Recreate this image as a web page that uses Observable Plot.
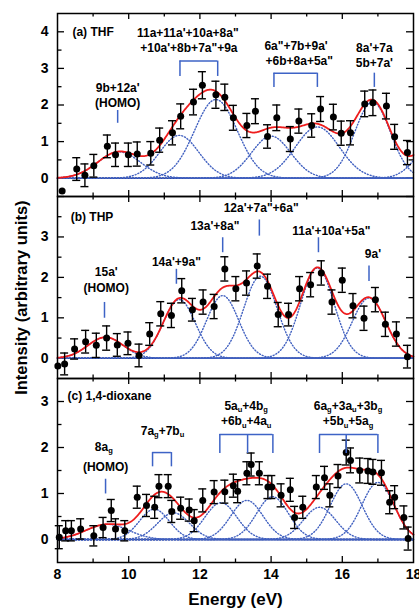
<!DOCTYPE html>
<html><head><meta charset="utf-8">
<script src="https://cdn.jsdelivr.net/npm/d3@7"></script>
<script src="https://cdn.jsdelivr.net/npm/@observablehq/plot@0.6"></script>
<style>
body{margin:0;background:#fff;}
#wrap{position:relative;width:419px;height:611px;overflow:hidden;background:#fff;}
#wrap > svg{position:absolute;left:0;}
</style></head><body><div id="wrap"></div>
<script>
// ---------- (a) THF ----------
const energyA = [8.13,8.54,8.77,9.02,9.40,9.63,9.99,10.24,10.62,10.87,11.23,11.46,11.82,12.07,12.45,12.70,12.94,13.32,13.56,13.90,14.16,14.54,14.78,15.14,15.39,15.75,15.97,16.23,16.63,16.86,17.24,17.47,17.83];
const intensityA = [-0.35,0.25,0.08,0.34,0.87,0.64,0.64,0.66,0.68,1.04,1.24,1.69,2.08,2.54,2.28,2.21,1.65,1.44,1.83,1.14,1.65,1.07,1.56,1.44,1.89,1.67,1.23,1.24,2.03,2.06,1.97,1.13,0.70];
const errorA = [0,0.31,0.31,0.31,0.31,0.32,0.32,0.33,0.32,0.33,0.33,0.34,0.35,0.37,0.37,0.36,0.34,0.33,0.34,0.32,0.35,0.34,0.33,0.32,0.34,0.35,0.33,0.33,0.35,0.35,0.35,0.34,0.33];
const peakCenterA = [9.73,11.42,12.45,14.0,15.3,16.85,18.6];
const peakHeightA = [0.72,1.17,2.15,1.15,1.4,2.08,1.0];
const peakWidthA  = [0.6,0.55,0.6,0.55,0.62,0.5,0.5];

// ---------- (b) THP ----------
const energyB = [8.01,8.2,8.48,8.79,9.09,9.38,9.68,9.98,10.29,10.59,10.9,11.2,11.49,11.79,12.09,12.4,12.7,13.01,13.31,13.61,13.9,14.2,14.49,14.8,15.11,15.41,15.71,16.0,16.3,16.61,16.93,17.21,17.52,17.83];
const intensityB = [-0.19,-0.14,0.23,0.41,0.32,0.5,0.33,0.37,0.07,0.6,1.1,1.06,1.67,1.2,1.39,1.28,2.21,1.72,1.86,2.28,1.78,1.08,1.08,1.72,1.82,2.11,1.39,1.93,1.3,0.99,1.45,0.84,0.6,0.04];
const errorB = [0,0.27,0.25,0.28,0.3,0.3,0.28,0.28,0.28,0.28,0.3,0.3,0.3,0.28,0.3,0.3,0.3,0.3,0.3,0.3,0.3,0.3,0.28,0.3,0.3,0.3,0.3,0.3,0.3,0.3,0.3,0.3,0.3,0.28];
const peakCenterB = [9.35,11.42,12.64,13.7,15.3,16.75];
const peakHeightB = [0.52,1.45,1.55,2.03,2.23,1.49];
const peakWidthB  = [0.5,0.45,0.45,0.47,0.47,0.47];

// ---------- (c) 1,4-dioxane ----------
const energyC = [8.05,8.23,8.39,8.65,9.02,9.28,9.51,9.63,9.89,10.24,10.5,10.73,10.85,11.11,11.21,11.46,11.7,11.84,12.08,12.4,12.7,12.94,13.06,13.32,13.44,13.67,13.91,14.02,14.28,14.54,14.66,14.89,15.27,15.5,15.65,15.88,16.11,16.23,16.49,16.72,16.86,17.1,17.33,17.47,17.73,17.85];
const intensityC = [0.05,0.19,0.19,0.23,0.08,0.26,0.63,0.23,0.19,0.92,0.74,0.7,1.16,1.16,0.61,0.68,0.64,0.41,0.85,1.03,1.04,1.17,1.05,1.44,1.63,1.44,1.14,1.14,0.96,1.08,0.48,0.7,1.14,1.34,0.96,1.38,1.89,1.72,1.5,1.49,1.47,1.45,0.81,0.92,0.48,0.02];
const errorC = [0.25,0.22,0.22,0.22,0.22,0.22,0.24,0.22,0.22,0.24,0.24,0.24,0.25,0.25,0.24,0.24,0.24,0.24,0.25,0.25,0.25,0.25,0.25,0.25,0.25,0.25,0.25,0.25,0.25,0.25,0.24,0.24,0.25,0.25,0.25,0.25,0.27,0.27,0.27,0.27,0.27,0.27,0.25,0.25,0.25,0.25];
const peakCenterC = [9.4,10.72,11.26,12.59,13.32,14.04,15.36,16.11,17.0];
const peakHeightC = [0.33,0.66,0.58,0.8,0.85,0.93,0.7,1.21,1.24];
const peakWidthC  = [0.6,0.42,0.45,0.45,0.45,0.45,0.45,0.45,0.45];

// ---------- tick labels ----------
const xTickLabels = [8,10,12,14,16,18];
const yTicksA = [0,1,2,3,4];
const yTicksB = [0,1,2,3];
const yTicksC = [0,1,2,3];

// ---------- panel titles and orbital assignments (text, energy, intensity) ----------
const titleA = "(a) THF", titleB = "(b) THP", titleC = "(c) 1,4-dioxane";
const titleXA = 8.42, titleYA = 3.99, titleXB = 8.37, titleYB = 3.5, titleXC = 8.28, titleYC = 3.11;

const labelTextA = ["11a+11a'+10a+8a\"","+10a'+8b+7a\"+9a","9b+12a'","(HOMO)","6a\"+7b+9a'","+6b+8a+5a\"","8a'+7a","5b+7a'"];
const labelXA = [11.66,11.69,9.69,9.69,14.7,14.79,16.9,16.9];
const labelYA = [3.96,3.54,2.45,2.05,3.62,3.2,3.55,3.13];
const bracketsA = [{from:11.44,to:12.5,top:3.2,end:2.78,mid:[]},{from:14.08,to:15.3,top:2.87,end:2.48,mid:[]}];
const markerXA = [9.69,16.9], markerTopA=[1.85,2.87], markerEndA=[1.5,2.48];

const labelTextB = ["15a'","(HOMO)","14a'+9a\"","13a'+8a\"","12a'+7a\"+6a\"","11a'+10a'+5a\"","9a'"];
const labelXB = [9.37,9.37,11.34,12.42,13.72,15.69,16.86];
const labelYB = [2.13,1.74,2.38,3.27,3.71,3.14,2.57];
const bracketsB = [];
const markerXB = [9.32,11.34,12.64,13.67,15.33,16.75], markerTopB=[1.38,2.2,2.98,3.42,2.98,2.28], markerEndB=[0.99,1.83,2.61,3.02,2.61,1.9];

const labelTextC = ["8a{g}","(HOMO)","7a{g}+7b{u}","5a{u}+4b{g}","+6b{u}+4a{u}","6a{g}+3a{u}+3b{g}","+5b{u}+5a{g}"];
const labelXC = [9.3,9.35,10.95,13.3,13.3,16.16,16.16];
const labelYC = [2.01,1.58,2.36,2.9,2.57,2.9,2.57];
const bracketsC = [{from:10.67,to:11.2,top:1.89,end:1.58,mid:[]},{from:12.56,to:14.05,top:2.28,end:1.87,mid:[13.34]},{from:15.36,to:17.0,top:2.28,end:1.87,mid:[16.11]}];
const markerXC = [9.35], markerTopC=[1.31], markerEndC=[0.99];

// ---------- drawing ----------
const RED = "#ee1c1c", BLUE = "#4060c0", BR = "#3d63c6";
const FONT = "'Liberation Sans', Arial, sans-serif";
const grid = d3.range(8, 18.0001, 0.02);
const gauss = (x, c, a, s) => a * Math.exp(-((x - c) ** 2) / (2 * s * s));

function panel(o) {
  const ppuX = 356 / 10;
  const cap = 4 / ppuX;
  const comps = o.centers.map((c, j) => ({c, a: o.heights[j], s: o.widths[j]}));
  const compRows = comps.flatMap((p, j) => grid.map(x => ({x, y: gauss(x, p.c, p.a, p.s), j})));
  const sumRows = grid.map(x => ({x, y: d3.sum(comps, p => gauss(x, p.c, p.a, p.s))}));
  const pts = o.energy.map((e, i) => ({e, v: o.intensity[i], lo: o.intensity[i] - o.error[i], hi: o.intensity[i] + o.error[i], err: o.error[i], l: e - cap, r: e + cap}));
  const bars = pts.filter(d => d.err > 0);
  const [y0, y1] = o.yDomain;
  const frameH = o.height - o.mt - o.mb;
  const ppuY = frameH / (y1 - y0);
  const yMajor = d3.range(Math.ceil(y0), y1 + 1e-9, 1);
  const yMinor = d3.range(Math.ceil(y0 * 2) / 2, y1 + 1e-9, 0.5).filter(v => !yMajor.includes(v) && v > y0 && v < y1);
  const xMajor = [10,12,14,16], xMinor = [9,11,13,15,17];
  const labels = o.labelText.map((t, i) => ({t, x: o.labelX[i], y: o.labelY[i]}));
  const hSeg = o.brackets.map(b => ({x1: b.from, x2: b.to, y: b.top}));
  const vSeg = o.brackets.flatMap(b => [b.from, ...b.mid, b.to].map(x => ({x, y1: b.end, y2: b.top})))
    .concat(o.markerX.map((x, i) => ({x, y1: o.markerEnd[i], y2: o.markerTop[i]})));
  const marks = [
    Plot.ruleY(yMajor, {x1: 8, x2: 8 + 7 / ppuX, stroke: "black", strokeWidth: 1.3}),
    Plot.ruleY(yMajor, {x1: 18 - 7 / ppuX, x2: 18, stroke: "black", strokeWidth: 1.3}),
    Plot.ruleY(yMinor, {x1: 8, x2: 8 + 4.5 / ppuX, stroke: "black", strokeWidth: 1.3}),
    Plot.ruleY(yMinor, {x1: 18 - 4.5 / ppuX, x2: 18, stroke: "black", strokeWidth: 1.3}),
    Plot.ruleX(xMajor, {y1: y0, y2: y0 + 6 / ppuY, stroke: "black", strokeWidth: 1.3}),
    Plot.ruleX(xMajor, {y1: y1 - 6 / ppuY, y2: y1, stroke: "black", strokeWidth: 1.3}),
    Plot.ruleX(xMinor, {y1: y0, y2: y0 + 3.5 / ppuY, stroke: "black", strokeWidth: 1.3}),
    Plot.ruleX(xMinor, {y1: y1 - 3.5 / ppuY, y2: y1, stroke: "black", strokeWidth: 1.3}),
    Plot.ruleY([0], {stroke: "#1d2f7a", strokeWidth: 1.6}),
    Plot.line(compRows, {x: "x", y: "y", z: "j", stroke: BLUE, strokeWidth: 1.4, strokeDasharray: "1,2"}),
    Plot.line(sumRows, {x: "x", y: "y", stroke: RED, strokeWidth: 1.8}),
    Plot.ruleX(bars, {x: "e", y1: "lo", y2: "hi", stroke: "black", strokeWidth: 1.4}),
    Plot.ruleY(bars, {x1: "l", x2: "r", y: "lo", stroke: "black", strokeWidth: 1.4}),
    Plot.ruleY(bars, {x1: "l", x2: "r", y: "hi", stroke: "black", strokeWidth: 1.4}),
    Plot.dot(pts, {x: "e", y: "v", r: 3.5, fill: "black"}),
    Plot.ruleY(hSeg, {x1: "x1", x2: "x2", y: "y", stroke: BR, strokeWidth: 1.5}),
    Plot.ruleX(vSeg, {x: "x", y1: "y1", y2: "y2", stroke: BR, strokeWidth: 1.5}),
    Plot.text(labels, {x: "x", y: "y", text: "t", fontSize: 12, fontWeight: "bold", fill: "black", textAnchor: "middle", lineAnchor: "middle"}),
    Plot.text([o.title], {x: o.titleX, y: o.titleY, fontSize: 12, fontWeight: "bold", fill: "black", textAnchor: "start", lineAnchor: "middle"}),
    Plot.frame({stroke: "black", strokeWidth: 1.5}),
    Plot.axisY(o.yTicks, {tickSize: 0, tickPadding: 9, fontSize: 14, fontWeight: "bold", label: null})
  ];
  if (o.xAxis) {
    marks.push(Plot.axisX(xTickLabels, {tickSize: 0, tickPadding: 7, fontSize: 14, fontWeight: "bold", label: null}));
    marks.push(Plot.text(["Energy (eV)"], {frameAnchor: "bottom", dy: 37, fontSize: 17, fontWeight: "bold", lineAnchor: "middle"}));
  }
  if (o.yLabel) {
    marks.push(Plot.text(["Intensity (arbitrary units)"], {x: 8, y: o.yLabel, dx: -35.5, rotate: -90, fontSize: 16.5, fontWeight: "bold", textAnchor: "middle", lineAnchor: "middle"}));
  }
  const svg = Plot.plot({
    width: 419, height: o.height,
    marginLeft: 57, marginRight: 6, marginTop: o.mt, marginBottom: o.mb,
    style: {fontFamily: FONT, background: "transparent", overflow: "visible"},
    x: {type: "linear", domain: [8, 18], axis: null},
    y: {type: "linear", domain: o.yDomain, axis: null},
    marks
  });
  svg.style.top = o.top + "px";
  d3.select(svg).selectAll("text").each(function () {
    const t = this.textContent;
    if (!t.includes("{")) return;
    const el = d3.select(this);
    el.text(null);
    let shifted = false;
    for (const p of t.split(/(\{[^}]*\})/)) {
      if (!p) continue;
      if (p.startsWith("{")) { el.append("tspan").attr("dy", shifted ? 0 : 2.5).attr("font-size", "7.5").text(p.slice(1, -1)); shifted = true; }
      else { el.append("tspan").attr("dy", shifted ? -2.5 : 0).text(p); shifted = false; }
    }
  });
  return svg;
}

const wrap = document.getElementById("wrap");
wrap.append(panel({top: 0, height: 196, mt: 13, mb: 0, yDomain: [-0.5, 4.5], yTicks: yTicksA,
  title: titleA, titleX: titleXA, titleY: titleYA,
  energy: energyA, intensity: intensityA, error: errorA, centers: peakCenterA, heights: peakHeightA, widths: peakWidthA,
  labelText: labelTextA, labelX: labelXA, labelY: labelYA, brackets: bracketsA, markerX: markerXA, markerTop: markerTopA, markerEnd: markerEndA}));
wrap.append(panel({top: 196, height: 182, mt: 0, mb: 0, yDomain: [-0.5, 4], yTicks: yTicksB, yLabel: 1.5,
  title: titleB, titleX: titleXB, titleY: titleYB,
  energy: energyB, intensity: intensityB, error: errorB, centers: peakCenterB, heights: peakHeightB, widths: peakWidthB,
  labelText: labelTextB, labelX: labelXB, labelY: labelYB, brackets: bracketsB, markerX: markerXB, markerTop: markerTopB, markerEnd: markerEndB}));
wrap.append(panel({top: 378, height: 233, mt: 0, mb: 49, yDomain: [-0.5, 3.5], yTicks: yTicksC, xAxis: true,
  title: titleC, titleX: titleXC, titleY: titleYC,
  energy: energyC, intensity: intensityC, error: errorC, centers: peakCenterC, heights: peakHeightC, widths: peakWidthC,
  labelText: labelTextC, labelX: labelXC, labelY: labelYC, brackets: bracketsC, markerX: markerXC, markerTop: markerTopC, markerEnd: markerEndC}));
</script></body></html>
